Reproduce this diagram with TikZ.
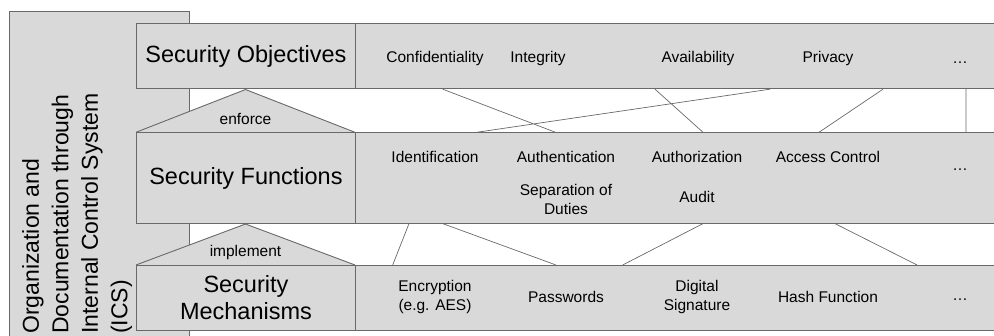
\documentclass[tikz,border=0pt]{standalone}
\usepackage{fontspec}
\setmainfont{Liberation Sans}
\usepackage{tikz}
\usetikzlibrary{calc}
\definecolor{boxgray}{RGB}{217,217,217}
\definecolor{edgegray}{RGB}{105,105,105}

\begin{document}
\begin{tikzpicture}[x=1pt, y=-1pt,
	band/.style={draw=edgegray, fill=boxgray, line width=0.9pt, inner sep=0pt, anchor=north west},
	item/.style={align=center, inner sep=0pt, font=\fontsize{15.5}{19}\selectfont},
	title/.style={align=center, font=\fontsize{23.5}{27}\selectfont},
	link/.style={draw=edgegray, line width=0.7pt}]
\clip (0,0) rectangle (994,336);
% ICS column
\filldraw[band] (9,345) |- (189,11) -- (189,345);
\node[rotate=90, anchor=north west, align=left, inner sep=0pt, font=\fontsize{23}{29.5}\selectfont] (ics) at (22,334)
	{Organization and\\Documentation through\\Internal Control System\\(ICS)};
% roofs
\filldraw[band] (136,132.3) -- (245.5,89.5) -- (355,132.3);
\filldraw[band] (136,265) -- (245.5,224) -- (355,265);
\node[item, anchor=base] (enf) at (245.5,124.3) {enforce};
\node[item, anchor=base] (impl) at (245.5,257) {implement};
% layer labels
\node[band, title, minimum width=219pt, minimum height=65pt] (objlabel) at (136,23.3) {Security Objectives};
\node[band, title, minimum width=219pt, minimum height=90.4pt] (funlabel) at (136,132.3) {Security Functions};
\node[band, title, minimum width=219pt, minimum height=65pt] (mechlabel) at (136,265) {Security\\Mechanisms};
% layer bands
\node[band, minimum width=660pt, minimum height=65pt] (objrow) at (355,23.3) {};
\node[band, minimum width=660pt, minimum height=90.4pt] (funrow) at (355,132.3) {};
\node[band, minimum width=660pt, minimum height=65pt] (mechrow) at (355,265) {};
% objectives
\node[item, anchor=base] (conf) at (435,62.3) {Confidentiality};
\node[item, anchor=base] (integ) at (538,62.3) {Integrity};
\node[item, anchor=base] (avail) at (698,62.3) {Availability};
\node[item, anchor=base] (priv) at (828,62.3) {Privacy};
\node[item, anchor=base] (objdots) at (960,63.5) {…};
% functions
\node[item, anchor=base] (ident) at (435,162.7) {Identification};
\node[item, anchor=base] (auth) at (566,162.7) {Authentication};
\node[item, anchor=base] (authz) at (697,162.7) {Authorization};
\node[item, anchor=base] (access) at (828,162.7) {Access Control};
\node[item, anchor=base] (fundots) at (960,170.5) {…};
\node[item] (sep) at (566,199) {Separation of\\Duties};
\node[item, anchor=base] (audit) at (697,202.5) {Audit};
% mechanisms
\node[item] (encr) at (435,297) {Encryption\\(e.g. AES)};
\node[item, anchor=base] (pass) at (566,302.3) {Passwords};
\node[item] (dsig) at (697,297) {Digital\\Signature};
\node[item, anchor=base] (hash) at (828,302.3) {Hash Function};
\node[item, anchor=base] (mechdots) at (960,300.5) {…};
% objectives -- functions
\path[link]
	($(conf|-objrow.south)+(7.7,0)$) -- ($(auth|-funrow.north)+(-10.5,0)$)
	($(avail|-objrow.south)+(-43,0)$) -- ($(authz|-funrow.north)+(6,0)$)
	($(priv|-objrow.south)+(-58,0)$) -- ($(ident|-funrow.north)+(41.7,0)$)
	($(priv|-objrow.south)+(55,0)$) -- ($(access|-funrow.north)+(-9,0)$)
	($(objdots|-objrow.south)+(6,0)$) -- ($(fundots|-funrow.north)+(6,0)$);
% functions -- mechanisms
\path[link]
	($(ident|-funrow.south)+(-26,0)$) -- ($(encr|-mechrow.north)+(-42.3,0)$)
	($(ident|-funrow.south)+(7.7,0)$) -- ($(pass|-mechrow.north)+(-10,0)$)
	($(audit|-funrow.south)+(6,0)$) -- ($(pass|-mechrow.north)+(56.7,0)$)
	($(access|-funrow.south)+(7,0)$) -- ($(mechdots|-mechrow.north)+(-43,0)$);
\end{tikzpicture}
\end{document}
